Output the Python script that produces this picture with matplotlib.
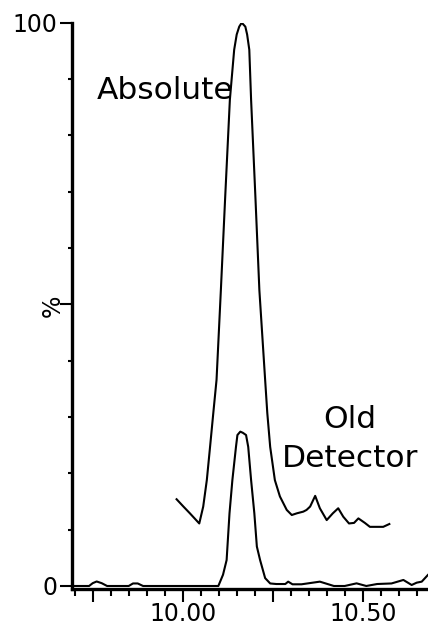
import matplotlib
matplotlib.use("Agg")
import matplotlib.pyplot as plt
from matplotlib.ticker import MultipleLocator, FixedLocator, FixedFormatter

# Absolute detector trace (time in min, intensity in %)
abs_time = [9.983, 10.002, 10.020, 10.046, 10.057, 10.067, 10.076, 10.085, 10.094,
            10.106, 10.118, 10.131, 10.143, 10.150, 10.157, 10.164, 10.174,
            10.179, 10.185,
            10.190, 10.202, 10.213, 10.229, 10.235, 10.243, 10.256, 10.270,
            10.289, 10.303, 10.317, 10.335, 10.344, 10.354, 10.368, 10.381, 10.400,
            10.417, 10.432, 10.446, 10.462, 10.476, 10.488, 10.506, 10.520, 10.557,
            10.574]
abs_val = [15.4, 14.1, 12.9, 11.1, 14.1, 18.8, 24.7, 30.7, 36.6,
           52.5, 69.0, 86.3, 95.2, 97.9, 99.3, 100.0, 99.3,
           97.9, 95.2,
           86.3, 69.0, 52.5, 36.6, 30.7, 24.7, 18.8, 15.9,
           13.5, 12.6, 12.9, 13.2, 13.5, 14.1, 16.0, 13.8, 11.7,
           12.9, 13.8, 12.3, 11.1, 11.2, 12.0, 11.2, 10.5, 10.5,
           11.0]

# Old detector trace
old_time = [9.6925, 9.740, 9.750, 9.761, 9.775, 9.790, 9.850, 9.862, 9.875,
            9.890, 10.099, 10.112, 10.122, 10.130, 10.138, 10.148, 10.152, 10.160,
            10.167, 10.176, 10.182, 10.190, 10.199, 10.206, 10.215, 10.229, 10.243,
            10.260, 10.285, 10.293, 10.305, 10.330, 10.381, 10.420, 10.450, 10.483,
            10.510, 10.540, 10.580, 10.613, 10.636, 10.650, 10.664, 10.681]
old_val = [0.0, 0.0, 0.5, 0.8, 0.5, 0.0, 0.0, 0.45, 0.45,
           0.0, 0.0, 2.0, 4.6, 12.9, 18.8, 24.7, 26.8, 27.4,
           27.2, 26.8, 24.7, 18.8, 12.9, 7.0, 4.6, 1.4, 0.45,
           0.35, 0.35, 0.77, 0.3, 0.3, 0.77, 0.0, 0.0, 0.47,
           0.0, 0.35, 0.45, 1.07, 0.18, 0.59, 0.77, 1.95]

x_labels = {10.00: "10.00", 10.50: "10.50"}
y_labels = {0: "0", 100: "100"}

fig = plt.figure(figsize=(4.28, 6.29), dpi=100)
ax = fig.add_axes([72 / 428, 0.0631, 1 - 72 / 428, 0.9008])

ax.plot(abs_time, abs_val, color="black", lw=1.5, solid_joinstyle="round")
ax.plot(old_time, old_val, color="black", lw=1.5, solid_joinstyle="round")

ax.set_xlim(9.6925, 10.6814)
ax.set_ylim(-0.59, 100)

for s in ("top", "right"):
    ax.spines[s].set_visible(False)
for s in ("left", "bottom"):
    ax.spines[s].set_linewidth(2.4)

xmaj = [9.75, 10.00, 10.25, 10.50]
ax.xaxis.set_major_locator(FixedLocator(xmaj))
ax.xaxis.set_major_formatter(FixedFormatter([x_labels.get(v, "") for v in xmaj]))
ax.xaxis.set_minor_locator(MultipleLocator(0.05))
ymaj = [0, 50, 100]
ax.yaxis.set_major_locator(FixedLocator(ymaj))
ax.yaxis.set_major_formatter(FixedFormatter([y_labels.get(v, "") for v in ymaj]))
ax.yaxis.set_minor_locator(MultipleLocator(10))

ax.tick_params(axis="x", which="major", length=9, width=1.5, labelsize=17, pad=0)
ax.tick_params(axis="x", which="minor", length=5, width=1.5)
ax.tick_params(axis="y", which="major", length=8.5, width=1.5, labelsize=17, pad=2)
ax.tick_params(axis="y", which="minor", length=3, width=1.5)

ax.set_ylabel("%", fontsize=17)
ax.yaxis.set_label_coords(-0.02, 0.5)

ax.text(9.761, 86.4, "Absolute", fontsize=22.5, ha="left", va="baseline")
ax.text(10.465, 28.0, "Old", fontsize=22.5, ha="center", va="baseline")
ax.text(10.465, 21.2, "Detector", fontsize=22.5, ha="center", va="baseline")

fig.savefig("out.png", dpi=100)
